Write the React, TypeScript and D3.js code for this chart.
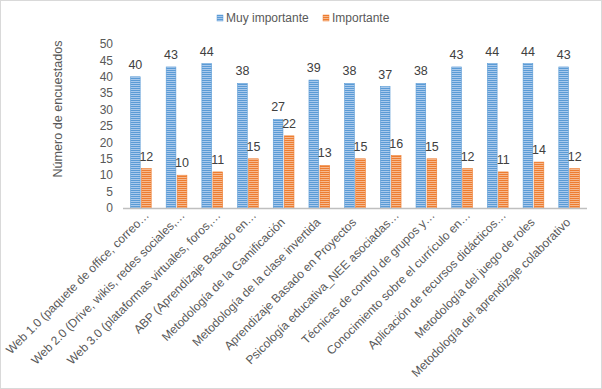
import React, { useEffect, useRef } from 'react';
import * as d3 from 'd3';

const categories = [
  'Web 1.0 (paquete de office, correo…',
  'Web 2.0 (Drive, wikis, redes sociales,…',
  'Web 3.0 (plataformas virtuales, foros,…',
  'ABP (Aprendizaje Basado en…',
  'Metodología de la Gamificación',
  'Metodología de la clase invertida',
  'Aprendizaje Basado en Proyectos',
  'Psicología educativa_NEE asociadas…',
  'Técnicas de control de grupos y…',
  'Conocimiento sobre el currículo en…',
  'Aplicación de recursos didácticos…',
  'Metodología del juego de roles',
  'Metodología del aprendizaje colaborativo',
];
const muyImportante = [40, 43, 44, 38, 27, 39, 38, 37, 38, 43, 44, 44, 43];
const importante = [12, 10, 11, 15, 22, 13, 15, 16, 15, 12, 11, 14, 12];
const yTicks = [0, 5, 10, 15, 20, 25, 30, 35, 40, 45, 50];

const series = [
  { name: 'Muy importante', values: muyImportante, color: '#5b9bd5', light: '#a9c9ec', pat: 'patBlue' },
  { name: 'Importante', values: importante, color: '#ed7d31', light: '#f6b98f', pat: 'patOrange' },
];

const W = 602;
const H = 389;

export default function App() {
  const svgRef = useRef<SVGSVGElement>(null);

  useEffect(() => {
    if (!svgRef.current) return;
    const svg = d3.select(svgRef.current);
    svg.selectAll('*').remove();

    const margin = { top: 44, left: 123, right: 15, bottom: 181 };
    const width = W - margin.left - margin.right;
    const height = H - margin.top - margin.bottom;
    const font = 'Liberation Sans, Arial, sans-serif';

    // Striped patterns
    const defs = svg.append('defs');
    series.forEach((s) => {
      const p = defs.append('pattern')
        .attr('id', s.pat)
        .attr('patternUnits', 'userSpaceOnUse')
        .attr('width', 4)
        .attr('height', 2);
      p.append('rect').attr('width', 4).attr('height', 2).attr('fill', s.light);
      p.append('rect').attr('width', 4).attr('height', 1).attr('fill', s.color);
    });

    // Border
    svg.append('rect')
      .attr('x', 0.5).attr('y', 0.5)
      .attr('width', W - 1).attr('height', H - 1)
      .attr('fill', '#fff')
      .attr('stroke', '#d9d9d9');

    const g = svg.append('g').attr('transform', `translate(${margin.left},${margin.top})`);

    const x0 = d3.scaleBand().domain(categories).range([0, width]).paddingInner(0.42).paddingOuter(0.21);
    const x1 = d3.scaleBand().domain(series.map((s) => s.name)).range([0, x0.bandwidth()]).paddingInner(0.12);
    const y = d3.scaleLinear().domain([0, 50]).range([height, 0]);

    // Y tick labels
    g.selectAll('.ytick')
      .data(yTicks)
      .enter()
      .append('text')
      .attr('x', -10)
      .attr('y', (d) => y(d))
      .attr('dy', '0.35em')
      .attr('text-anchor', 'end')
      .attr('font-family', font)
      .attr('font-size', '12px')
      .attr('fill', '#595959')
      .text((d) => d);

    // Bars
    series.forEach((s) => {
      g.selectAll(`.bar-${s.pat}`)
        .data(s.values)
        .enter()
        .append('rect')
        .attr('x', (_d, i) => (x0(categories[i]) || 0) + (x1(s.name) || 0))
        .attr('y', (d) => y(d))
        .attr('width', x1.bandwidth())
        .attr('height', (d) => y(0) - y(d))
        .attr('fill', `url(#${s.pat})`)
        .attr('stroke', s.color)
        .attr('stroke-width', 0.6);

      g.selectAll(`.val-${s.pat}`)
        .data(s.values)
        .enter()
        .append('text')
        .attr('x', (_d, i) => (x0(categories[i]) || 0) + (x1(s.name) || 0) + x1.bandwidth() / 2)
        .attr('y', (d) => y(d) - 8)
        .attr('text-anchor', 'middle')
        .attr('font-family', font)
        .attr('font-size', '12.5px')
        .attr('fill', '#404040')
        .text((d) => d);
    });

    // X axis line
    g.append('line')
      .attr('x1', 0).attr('x2', width)
      .attr('y1', y(0) + 0.5).attr('y2', y(0) + 0.5)
      .attr('stroke', '#bfbfbf')
      .attr('stroke-width', 1.5);

    // Category labels
    g.selectAll('.xlab')
      .data(categories)
      .enter()
      .append('text')
      .attr('transform', (d) => {
        const cx = (x0(d) || 0) + x0.bandwidth() / 2;
        const shift = d.endsWith('…') ? 7 : 0;
        return `translate(${cx + 2 + shift},${height + 15 - shift}) rotate(-45)`;
      })
      .attr('text-anchor', 'end')
      .attr('font-family', font)
      .attr('font-size', '12px')
      .attr('fill', '#595959')
      .text((d) => d);

    // Y axis title
    svg.append('text')
      .attr('transform', `translate(62,${margin.top + 65}) rotate(-90)`)
      .attr('text-anchor', 'middle')
      .attr('font-family', font)
      .attr('font-size', '12.6px')
      .attr('fill', '#595959')
      .text('Número de encuestados');

    // Legend
    const legendPos = [217, 323];
    series.forEach((s, i) => {
      const lg = svg.append('g').attr('transform', `translate(${legendPos[i]},15)`);
      lg.append('rect').attr('width', 6).attr('height', 6).attr('fill', `url(#${s.pat})`).attr('stroke', s.color).attr('stroke-width', 0.5);
      lg.append('text')
        .attr('x', 9)
        .attr('y', 7)
        .attr('font-family', font)
        .attr('font-size', '12px')
        .attr('fill', '#595959')
        .text(s.name);
    });
  }, []);

  return (
    <svg
      ref={svgRef}
      width={W}
      height={H}
      style={{ position: 'absolute', left: 0, top: 0, display: 'block' }}
    />
  );
}
